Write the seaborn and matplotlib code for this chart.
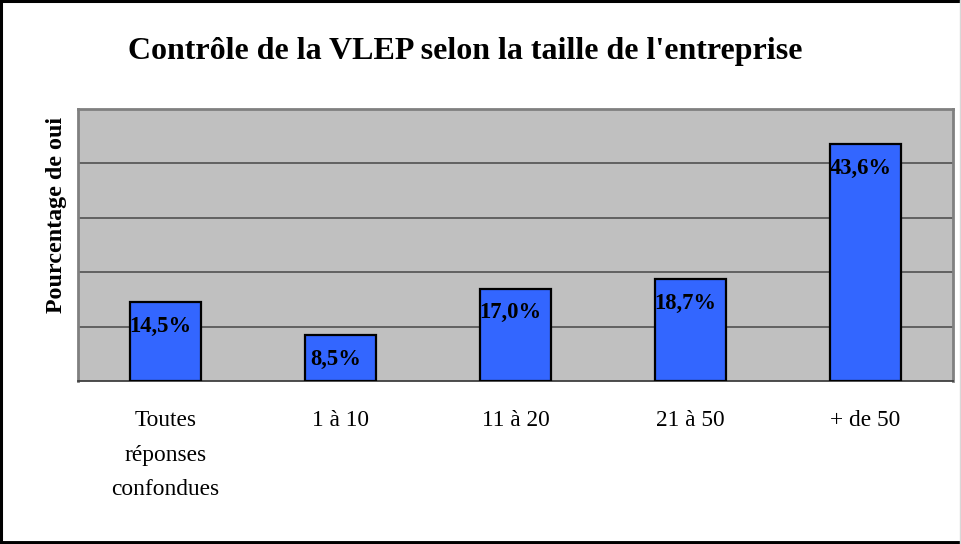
import matplotlib
matplotlib.use("Agg")
import matplotlib.pyplot as plt
from matplotlib.lines import Line2D
from matplotlib.transforms import offset_copy
import seaborn as sns
import pandas as pd

# Data
categories = ["Toutes\nréponses\nconfondues", "1 à 10", "11 à 20", "21 à 50", "+ de 50"]
values = [14.5, 8.5, 17.0, 18.7, 43.6]
value_labels = ["14,5%", "8,5%", "17,0%", "18,7%", "43,6%"]

title = "Contrôle de la VLEP selon la taille de l'entreprise"
ylabel = "Pourcentage de oui"

sns.set_theme(style="white")
plt.rcParams["font.family"] = ["Liberation Serif", "DejaVu Serif"]
plt.rcParams["text.color"] = "black"
plt.rcParams["axes.labelcolor"] = "black"
plt.rcParams["xtick.color"] = "black"

W, H, DPI = 961, 544, 100
fig = plt.figure(figsize=(W / DPI, H / DPI), dpi=DPI)
fig.patch.set_facecolor("white")

ax = fig.add_axes([78 / W, 1 - 381 / H, (953 - 78) / W, (381 - 109) / H])
ax.set_facecolor("#C0C0C0")

df = pd.DataFrame({"cat": categories, "val": values})
sns.barplot(data=df, x="cat", y="val", ax=ax, color="#3366FF", width=0.41,
            saturation=1, edgecolor="black", linewidth=1.6, zorder=3)

ax.set_ylim(0, 50)
ax.set_xlim(-0.5, len(categories) - 0.5)
ax.set_yticks([10, 20, 30, 40])
ax.yaxis.grid(True, color="#5A5A5A", linewidth=1.3, zorder=1)
ax.set_axisbelow(True)
ax.tick_params(axis="y", left=False, labelleft=False)

# category boundary ticks below the axis
ax.set_xticks([i - 0.5 for i in range(len(categories) + 1)], minor=True)
ax.set_xticks(range(len(categories)))
ax.set_xticklabels(categories, fontsize=16.8, linespacing=1.85, va="top",
                   color="black")
ax.tick_params(axis="x", which="major", length=0, pad=21)
ax.tick_params(axis="x", which="minor", length=7, width=1.0, color="#404040",
               direction="out")

for side in ["top", "left", "right"]:
    ax.spines[side].set_color("#808080")
    ax.spines[side].set_linewidth(2)
ax.spines["bottom"].set_color("#404040")
ax.spines["bottom"].set_linewidth(1.3)

ax.set_xlabel("")
ax.set_ylabel(ylabel, fontsize=17.3, fontweight="bold", color="black")
ax.yaxis.set_label_coords(-0.0125, 0.61)

# value labels inside the top of each bar
for i, (v, lab) in enumerate(zip(values, value_labels)):
    tr = offset_copy(ax.transData, fig=fig, x=-3.6, y=-17.5, units="points")
    ax.text(i, v, lab, transform=tr, ha="center", va="center",
            fontsize=16.3, fontweight="bold", color="black", zorder=5)

fig.text(465 / W, 1 - 52 / H, title, ha="center", va="center",
         fontsize=23, fontweight="bold", color="black")

# frame around the whole chart
fig.add_artist(Line2D([0.5 / W, 0.5 / W], [0, 1], transform=fig.transFigure,
                      color="black", linewidth=2.2))
fig.add_artist(Line2D([0, 1], [1 - 1 / H, 1 - 1 / H], transform=fig.transFigure,
                      color="black", linewidth=2.2))
fig.add_artist(Line2D([0, 1], [1.5 / H, 1.5 / H], transform=fig.transFigure,
                      color="black", linewidth=2.8))
fig.add_artist(Line2D([1 - 1 / W, 1 - 1 / W], [0, 1], transform=fig.transFigure,
                      color="#D8D8D8", linewidth=1.0))

fig.savefig("out.png", dpi=DPI, facecolor="white")
